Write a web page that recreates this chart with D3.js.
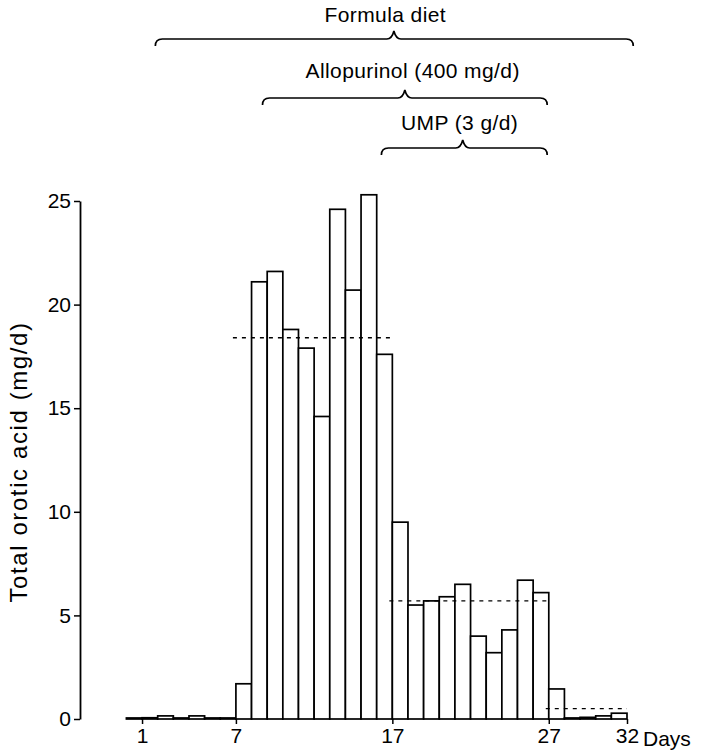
<!DOCTYPE html>
<html>
<head>
<meta charset="utf-8">
<script src="https://cdn.jsdelivr.net/npm/d3@7/dist/d3.min.js"></script>
<style>
  html, body { margin: 0; padding: 0; background: #fff; }
  svg { display: block; }
  text { font-family: "Liberation Sans", Arial, Helvetica, sans-serif; fill: #000; }
</style>
</head>
<body>
<svg id="chart" width="703" height="750"></svg>
<script>
// ---- data ----
const days = d3.range(1, 33);
const orotic = [
  0.05, 0.06, 0.15, 0.05, 0.15, 0.05, 0.05,          // days 1-7
  1.7, 21.1, 21.6, 18.8, 17.9, 14.6, 24.6, 20.7, 25.3, 17.6, // days 8-17
  9.5, 5.5, 5.7, 5.9, 6.5, 4.0, 3.2, 4.3, 6.7, 6.1,  // days 18-27
  1.45, 0.05, 0.08, 0.15, 0.28                       // days 28-32
];
const xTicks = [1, 7, 17, 27, 32];
const yTicks = [0, 5, 10, 15, 20, 25];
const periodStart = [7, 17, 27];
const periodEnd = [17, 27, 32];
const periodMean = [18.4, 5.7, 0.5];
const treatLabels = ["Formula diet", "Allopurinol (400 mg/d)", "UMP (3 g/d)"];
const treatStart = [1.85, 8.7, 16.3];
const treatEnd = [32.4, 26.9, 26.9];
const treatTip = [17.1, 17.8, 21.5];
const treatTextAt = [16.55, 18.3, 21.3];

// ---- layout ----
const svg = d3.select("#chart");
const x = d3.scaleLinear().domain([0, 32]).range([126.4, 627]);
const y = d3.scaleLinear().domain([0, 25]).range([719, 201]);
const FONT = 21;

// bars
svg.append("g").selectAll("rect")
  .data(days.map((d, i) => ({ day: d, v: orotic[i] })))
  .join("rect")
  .attr("x", d => x(d.day - 1))
  .attr("width", d => x(d.day) - x(d.day - 1))
  .attr("y", d => y(d.v))
  .attr("height", d => y(0) - y(d.v))
  .attr("fill", "#fff")
  .attr("stroke", "#000")
  .attr("stroke-width", 1.7);

// dashed period means
svg.append("g").selectAll("line")
  .data(periodMean.map((m, i) => ({ m, s: periodStart[i], e: periodEnd[i] })))
  .join("line")
  .attr("x1", d => x(d.s) - 3)
  .attr("x2", d => x(d.e))
  .attr("y1", d => y(d.m))
  .attr("y2", d => y(d.m))
  .attr("stroke", "#000")
  .attr("stroke-width", 1.4)
  .attr("stroke-dasharray", "4,5");

// y axis
const yAxis = svg.append("g")
  .attr("transform", "translate(80,0)")
  .call(d3.axisLeft(y).tickValues(yTicks).tickSize(6).tickSizeOuter(0).tickPadding(3));
yAxis.select(".domain").attr("stroke-width", 1.8);
yAxis.selectAll(".tick line").attr("stroke-width", 1.5);
yAxis.selectAll("text").style("font-size", FONT + "px").attr("font-family", null);

// x axis
const xAxis = svg.append("g")
  .attr("transform", "translate(0,719)")
  .call(d3.axisBottom(x).tickValues(xTicks).tickSize(5).tickPadding(4));
xAxis.select(".domain").remove();
xAxis.selectAll(".tick line").attr("stroke-width", 1.5);
xAxis.selectAll("text").style("font-size", FONT + "px").attr("font-family", null);

svg.append("text")
  .attr("x", 643).attr("y", 746)
  .style("font-size", FONT + "px")
  .text("Days");

// y title
svg.append("text")
  .attr("transform", "translate(27,462) rotate(-90)")
  .attr("text-anchor", "middle")
  .style("font-size", "24px")
  .style("letter-spacing", "1.6px")
  .text("Total orotic acid (mg/d)");

// treatment braces
const braceY = [39, 98, 148];
const textY = [22, 78, 130];
function brace(x0, x1, xt, yl) {
  const dn = 7, up = 8, r = 7;
  return `M${x0},${yl + dn} Q${x0},${yl} ${x0 + r},${yl}`
    + ` L${xt - r},${yl} Q${xt - 2},${yl} ${xt},${yl - up}`
    + ` Q${xt + 2},${yl} ${xt + r},${yl}`
    + ` L${x1 - r},${yl} Q${x1},${yl} ${x1},${yl + dn}`;
}
const tg = svg.append("g");
treatLabels.forEach((lab, i) => {
  tg.append("path")
    .attr("d", brace(x(treatStart[i]), x(treatEnd[i]), x(treatTip[i]), braceY[i]))
    .attr("fill", "none")
    .attr("stroke", "#000")
    .attr("stroke-width", 1.7);
  tg.append("text")
    .attr("x", x(treatTextAt[i]))
    .attr("y", textY[i])
    .attr("text-anchor", "middle")
    .style("font-size", FONT + "px")
    .style("letter-spacing", "0.4px")
    .text(lab);
});
</script>
</body>
</html>
